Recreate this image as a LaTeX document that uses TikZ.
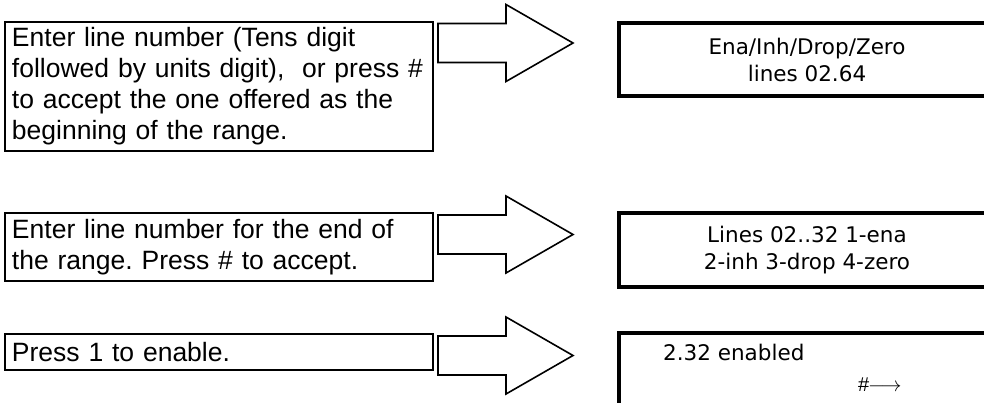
\documentclass[tikz,border=0pt]{standalone}
\usepackage{fontspec}
\setmainfont{Liberation Sans}
\newfontfamily\lcdfont{DejaVu Sans}
\frenchspacing
\begin{document}
\begin{tikzpicture}[x=1pt,y=-1pt,
  lbox/.style={draw, line width=2pt, inner xsep=7pt, inner ysep=0pt, align=left,
    text width=414pt, font=\fontsize{26.5}{31}\selectfont},
  rbox/.style={draw, line width=4pt, inner sep=0pt, align=center,
    minimum width=376pt, font=\lcdfont\fontsize{21.5}{27}\selectfont},
  rtext/.style={anchor=base west, inner sep=0pt, font=\lcdfont\fontsize{21.5}{27}\selectfont},
  blockarr/.pic={\draw[line width=1.6pt, line join=miter, fill=white]
    (0,-19.5) -- (68,-19.5) -- (68,-38.5) -- (135,0) -- (68,38.5) -- (68,19.5) -- (0,19.5) -- cycle;}]
\useasboundingbox (0,0) rectangle (984,402);
\clip (0,0) rectangle (984,402);
% left boxes
\node[lbox, minimum height=129pt] (b1) at (219,86.5)
  {Enter line number (Tens digit\\followed by units digit),\ \ or press \#\\to accept the one offered as the\\beginning of the range.};
\node[lbox, minimum height=68pt] (b2) at (219,247)
  {Enter line number for the end of\\the range. Press \# to accept.};
\node[lbox, minimum height=36pt] (b3) at (219,352)
  {Press 1 to enable.};
% right display boxes
\node[rbox, minimum height=73pt] (r1) at (807,59.5) {Ena/Inh/Drop/Zero\\lines 02.64};
\node[rbox, minimum height=74pt] (r2) at (807,250) {Lines 02..32 1-ena\\2-inh 3-drop 4-zero};
\node[rbox, minimum height=120pt] (r3) at (807,393) {};
\node[rtext] (t3a) at (663,360) {2.32 enabled};
\node[anchor=base west, inner sep=0pt, font=\fontsize{20}{22}\selectfont] (t3b) at (858,391) {$\#\!\!\longrightarrow$};
% block arrows
\pic (a1) at (438,43) {blockarr};
\pic (a2) at (438,234.5) {blockarr};
\pic (a3) at (438,355.5) {blockarr};
\end{tikzpicture}
\end{document}
